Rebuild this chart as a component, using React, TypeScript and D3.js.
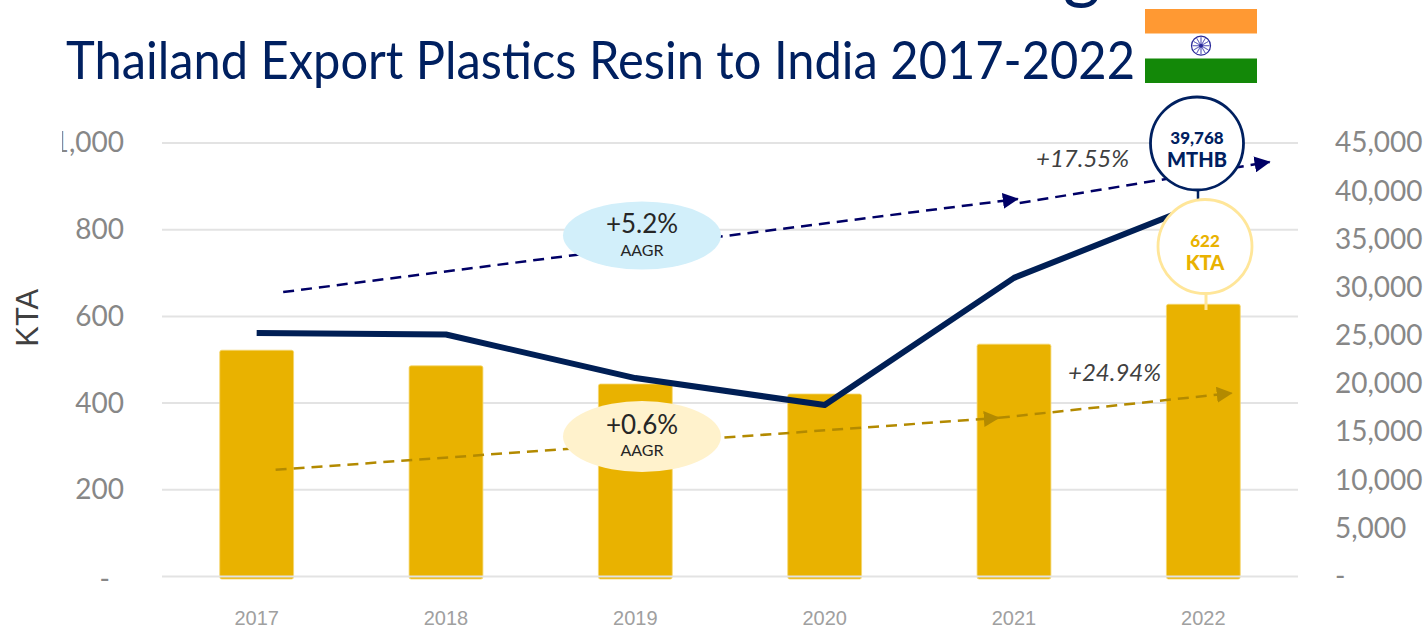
import React, { FC, useEffect, useRef } from 'react'
import * as d3 from 'd3'

const years = ['2017', '2018', '2019', '2020', '2021', '2022']
const volumeKta = [522, 486, 444, 421, 536, 628]
const valueMthb = [25280, 25120, 20600, 17800, 31000, 38800]
const leftTicks = [0, 200, 400, 600, 800, 1000]
const rightTicks = [0, 5000, 10000, 15000, 20000, 25000, 30000, 35000, 40000, 45000]

// trend arrows: [year position, axis value]
const valueTrendA = [[2017.14, 29530], [2021.02, 39190]]
const valueTrendB = [[2021.03, 38775], [2022.35, 43030]]
const volumeTrendA = [[2017.1, 246], [2020.92, 366]]
const volumeTrendB = [[2020.92, 366], [2022.15, 423]]

const width = 1424
const height = 628
const plot = { left: 162, right: 1298, top: 143, bottom: 576.5 }

const NAVY = '#002060'
const LINE_NAVY = '#001F55'
const ARROW_NAVY = '#000066'
const GOLD = '#E9B200'
const ARROW_GOLD = '#B38A00'
const GREY = '#878787'
const BODY_FONT = 'Lato, sans-serif'
const ARIAL = '"Liberation Sans", Arial, sans-serif'

const App: FC = () => {
	const leftAxis = useRef<SVGGElement>(null)
	const rightAxis = useRef<SVGGElement>(null)
	const bottomAxis = useRef<SVGGElement>(null)

	const xScale = d3.scaleBand().domain(years).range([plot.left, plot.right]).paddingInner(0.61).paddingOuter(0.305)
	const xYear = d3
		.scaleLinear()
		.domain([2017, 2022])
		.range([xScale('2017')! + xScale.bandwidth() / 2, xScale('2022')! + xScale.bandwidth() / 2])
	const yLeft = d3.scaleLinear().domain([0, 1000]).range([plot.bottom, plot.top])
	const yRight = d3.scaleLinear().domain([0, 45000]).range([plot.bottom, plot.top])

	const line = d3
		.line<number>()
		.x((_, i) => xScale(years[i])! + xScale.bandwidth() / 2)
		.y((d) => yRight(d))

	const trendValue = d3.line<number[]>().x((d) => xYear(d[0])).y((d) => yRight(d[1]))
	const trendVolume = d3.line<number[]>().x((d) => xYear(d[0])).y((d) => yLeft(d[1]))

	useEffect(() => {
		const fmt = (d: d3.NumberValue) => (+d === 0 ? '-' : d3.format(',')(+d))
		const style = (g: d3.Selection<SVGGElement, unknown, null, undefined>) => {
			g.select('.domain').remove()
			g.selectAll('line').remove()
		}
		const left = d3.select(leftAxis.current!)
		left.call(d3.axisLeft(yLeft).tickValues(leftTicks).tickFormat(fmt).tickSize(0).tickPadding(0) as any)
		style(left)
		left.selectAll('text').attr('font-family', BODY_FONT).attr('font-size', 28).attr('fill', GREY)
		// the dash sits lower and further left than the end of the labels
		left.selectAll('.tick').filter((d) => d === 0).select('text').attr('dx', -14).attr('dy', '0.42em')

		const right = d3.select(rightAxis.current!)
		right.call(d3.axisRight(yRight).tickValues(rightTicks).tickFormat(fmt).tickSize(0).tickPadding(0) as any)
		style(right)
		right.selectAll('text').attr('font-family', BODY_FONT).attr('font-size', 28).attr('fill', GREY)

		const bottom = d3.select(bottomAxis.current!)
		bottom.call(d3.axisBottom(xScale).tickSize(0).tickPadding(0) as any)
		style(bottom)
		bottom.selectAll('text').attr('font-family', ARIAL).attr('font-size', 20).attr('fill', '#A0A0A0')
	}, [])

	return (
		<svg
			width={width}
			height={height}
			style={{ position: 'absolute', left: 0, top: 0, background: '#fff' }}
		>
			<defs>
				<clipPath id="leftClip">
					<rect x={62} y={100} width={120} height={510} />
				</clipPath>
				<marker id="headNavy" viewBox="0 0 16 16" refX={15} refY={8} markerWidth={16} markerHeight={16} markerUnits="userSpaceOnUse" orient="auto">
					<path d="M0,0 L16,8 L0,16 Z" fill={ARROW_NAVY} />
				</marker>
				<marker id="headGold" viewBox="0 0 16 16" refX={15} refY={8} markerWidth={16} markerHeight={16} markerUnits="userSpaceOnUse" orient="auto">
					<path d="M0,0 L16,8 L0,16 Z" fill={ARROW_GOLD} />
				</marker>
			</defs>

			{/* cut off line above the title */}
			<text x={1063} y={-5} fontFamily={BODY_FONT} fontSize={72} fill={NAVY}>g</text>
			<text x={66} y={79} fontFamily={BODY_FONT} fontSize={52} fill={NAVY} textLength={1069} lengthAdjust="spacingAndGlyphs">
				Thailand Export Plastics Resin to India 2017-2022
			</text>

			{/* flag */}
			<rect x={1145} y={9} width={112} height={24.5} fill="#FF9933" />
			<rect x={1145} y={58.5} width={112} height={24.5} fill="#138808" />
			<circle cx={1201} cy={45.7} r={9.5} fill="#fff" stroke="#2A2A9A" strokeWidth={1.2} />
			{d3.range(12).map((i) => (
				<line
					key={i}
					x1={1201 + 8.5 * Math.cos((i * Math.PI) / 6)}
					y1={45.7 + 8.5 * Math.sin((i * Math.PI) / 6)}
					x2={1201 - 8.5 * Math.cos((i * Math.PI) / 6)}
					y2={45.7 - 8.5 * Math.sin((i * Math.PI) / 6)}
					stroke="#5A5ABA"
					strokeWidth={0.7}
				/>
			))}
			<circle cx={1201} cy={45.7} r={2} fill="#2A2A9A" />

			{/* grid */}
			{leftTicks.slice(1).map((t) => (
				<line key={t} x1={plot.left} x2={plot.right} y1={yLeft(t)} y2={yLeft(t)} stroke="#E3E3E3" strokeWidth={2} />
			))}

			{/* bars */}
			{volumeKta.map((d, i) => (
				<rect
					key={years[i]}
					x={xScale(years[i])}
					y={yLeft(d)}
					width={xScale.bandwidth()}
					height={yLeft(0) - yLeft(d) + 2.5}
					rx={2}
					fill={GOLD}
					stroke="#F5D76E"
					strokeWidth={0.8}
				/>
			))}
			<line x1={plot.left} x2={plot.right} y1={yLeft(0)} y2={yLeft(0)} stroke="#E3E3E3" strokeWidth={2} />

			{/* trends */}
			<g fill="none" strokeWidth={2.5} strokeDasharray="11 7">
				<path d={trendValue(valueTrendA)!} stroke={ARROW_NAVY} markerEnd="url(#headNavy)" />
				<path d={trendValue(valueTrendB)!} stroke={ARROW_NAVY} markerEnd="url(#headNavy)" />
				<path d={trendVolume(volumeTrendA)!} stroke={ARROW_GOLD} markerEnd="url(#headGold)" />
				<path d={trendVolume(volumeTrendB)!} stroke={ARROW_GOLD} markerEnd="url(#headGold)" />
			</g>

			<path d={line(valueMthb)!} fill="none" stroke={LINE_NAVY} strokeWidth={6} strokeLinejoin="round" />

			{/* AAGR bubbles */}
			<ellipse cx={642} cy={235.5} rx={79} ry={34} fill="#D2EFFA" />
			<text x={642} y={233} textAnchor="middle" fontFamily={BODY_FONT} fontSize={26} fill="#262626">+5.2%</text>
			<text x={642} y={256} textAnchor="middle" fontFamily={BODY_FONT} fontSize={16} fill="#262626">AAGR</text>
			<ellipse cx={642} cy={436.5} rx={79} ry={35.5} fill="#FFF2CC" />
			<text x={642} y={434} textAnchor="middle" fontFamily={BODY_FONT} fontSize={26} fill="#262626">+0.6%</text>
			<text x={642} y={456} textAnchor="middle" fontFamily={BODY_FONT} fontSize={16} fill="#262626">AAGR</text>

			<text x={1036} y={167} fontFamily={BODY_FONT} fontStyle="italic" fontSize={24} fill="#404040">+17.55%</text>
			<text x={1068} y={381} fontFamily={BODY_FONT} fontStyle="italic" fontSize={24} fill="#404040">+24.94%</text>

			{/* callouts */}
			<line x1={1198} x2={1198} y1={188} y2={202} stroke={NAVY} strokeWidth={2.5} />
			<line x1={1206} x2={1206} y1={292} y2={310} stroke="#FFE699" strokeWidth={3} />
			<circle cx={1197} cy={143.5} r={46.5} fill="#fff" stroke={NAVY} strokeWidth={2.8} />
			<text x={1197} y={144} textAnchor="middle" fontFamily={BODY_FONT} fontWeight={900} fontSize={17} fill={NAVY}>39,768</text>
			<text x={1197} y={167} textAnchor="middle" fontFamily={BODY_FONT} fontWeight={900} fontSize={20} fill={NAVY}>MTHB</text>
			<circle cx={1205} cy={246.5} r={47} fill="#fff" stroke="#FFE699" strokeWidth={2.8} />
			<text x={1205} y={247} textAnchor="middle" fontFamily={BODY_FONT} fontWeight={900} fontSize={17} fill={GOLD}>622</text>
			<text x={1205} y={270} textAnchor="middle" fontFamily={BODY_FONT} fontWeight={900} fontSize={20} fill={GOLD}>KTA</text>

			{/* axes */}
			<g clipPath="url(#leftClip)">
				<g ref={leftAxis} transform="translate(124, 0)" />
			</g>
			<g ref={rightAxis} transform="translate(1335, 0)" />
			<g ref={bottomAxis} transform="translate(0, 611)" />
			<text
				transform={`translate(38, ${(plot.top + plot.bottom) / 2 - 42}) rotate(-90)`}
				textAnchor="middle"
				fontFamily={ARIAL}
				fontSize={31}
				fill="#404040"
			>
				KTA
			</text>
		</svg>
	)
}

export default App
